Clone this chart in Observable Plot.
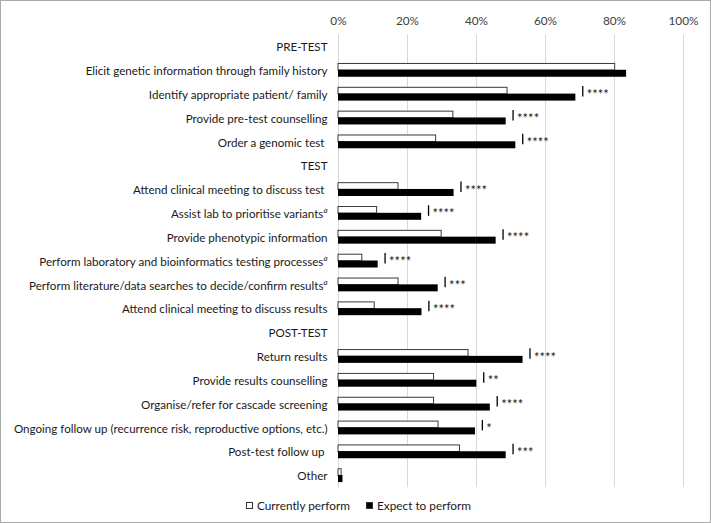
<!DOCTYPE html>
<html><head><meta charset="utf-8">
<script src="https://cdn.jsdelivr.net/npm/d3@7"></script>
<script src="https://cdn.jsdelivr.net/npm/@observablehq/plot@0.6"></script>
<style>
body{margin:0;background:#fff;}
#chart{width:711px;height:523px;box-sizing:border-box;border:1px solid #aaaaaa;font-family:Lato, sans-serif;position:relative;overflow:hidden;background:#fff;}
#chart svg{position:absolute;left:0;top:0;}
.legend{position:absolute;top:497px;left:0;width:709px;display:flex;justify-content:center;gap:16px;font-size:11.8px;color:#1a1a1a;padding-left:6px;box-sizing:border-box;}
.legend span.item{display:flex;align-items:center;gap:4px;}
.legend .sw{display:inline-block;width:7px;height:7px;box-sizing:border-box;}
</style></head><body><div id="chart"></div>
<script>
const categories = [
  "PRE-TEST",
  "Elicit genetic information through family history",
  "Identify appropriate patient/ family",
  "Provide pre-test counselling",
  "Order a genomic test\u00a0",
  "TEST",
  "Attend clinical meeting to discuss test\u00a0",
  "Assist lab to prioritise variants",
  "Provide phenotypic information",
  "Perform laboratory and bioinformatics testing processes",
  "Perform literature/data searches to decide/confirm results",
  "Attend clinical meeting to discuss results",
  "POST-TEST",
  "Return results",
  "Provide results counselling",
  "Organise/refer for cascade screening",
  "Ongoing follow up (recurrence risk, reproductive options, etc.)",
  "Post-test follow up\u00a0",
  "Other"
];
const currentlyPerform = [null, 80.2, 49.0, 33.3, 28.3, null, 17.4, 11.2, 29.9, 6.9, 17.4, 10.5, null, 37.7, 27.7, 27.7, 29.0, 35.2, 0.9];
const expectToPerform  = [null, 83.5, 68.8, 48.6, 51.4, null, 33.5, 24.1, 45.7, 11.5, 28.9, 24.2, null, 53.5, 40.1, 44.0, 39.7, 48.6, 1.3];
const significance     = ["", "", "****", "****", "****", "", "****", "****", "****", "****", "***", "****", "", "****", "**", "****", "*", "***", ""];
const superscriptA = [
  "Assist lab to prioritise variants",
  "Perform laboratory and bioinformatics testing processes",
  "Perform literature/data searches to decide/confirm results"
];
const xTicks = [0, 20, 40, 60, 80, 100];
const seriesNames = ["Currently perform", "Expect to perform"];

const rows = categories.map((c, i) => ({cat: c, cur: currentlyPerform[i], exp: expectToPerform[i], sig: significance[i]}));
const barRows = rows.filter(d => d.cur != null);
const sigRows = rows.filter(d => d.sig);

const band = 453 / 19;
const half = band / 2;

const plot = Plot.plot({
  width: 709,
  height: 489,
  marginLeft: 337,
  marginRight: 27,
  marginTop: 33,
  marginBottom: 3,
  style: {fontFamily: "Lato, sans-serif", fontSize: "11.8px", color: "#1a1a1a", background: "transparent"},
  x: {domain: [0, 100], axis: null},
  y: {domain: categories, padding: 0, round: false, axis: null},
  marks: [
    Plot.gridX(xTicks, {stroke: "#d9d9d9", strokeOpacity: 1}),
    Plot.axisX(xTicks, {anchor: "top", tickSize: 0, tickPadding: 10, tickFormat: d => d + "%", fill: "#404040", fontSize: 11.8}),
    Plot.barX(barRows, {x1: 0, x2: "cur", y: "cat", fill: "white", stroke: "#3a3a3a", strokeWidth: 1, insetTop: half - 6.3, insetBottom: half - 0.3}),
    Plot.barX(barRows, {x1: 0, x2: "exp", y: "cat", fill: "black", insetTop: half, insetBottom: half - 7}),
    Plot.tickX(sigRows, {x: d => d.exp + 2, y: "cat", stroke: "black", strokeWidth: 1.3, insetTop: half - 7.5, insetBottom: half - 3}),
    Plot.text(sigRows, {x: d => d.exp + 2, y: "cat", text: "sig", dx: 4, dy: 1, textAnchor: "start", fill: "#1a1a1a", fontSize: 13}),
    Plot.text(rows, {x: 0, y: "cat", text: "cat", dx: -11, dy: 1, textAnchor: "end", fill: "#1a1a1a", fontSize: 11.6, className: "ylab"})
  ]
});

plot.querySelectorAll(".ylab text").forEach(t => {
  if (superscriptA.includes(t.textContent)) {
    const ts = document.createElementNS("http://www.w3.org/2000/svg", "tspan");
    ts.textContent = "a";
    ts.setAttribute("font-style", "italic");
    ts.setAttribute("font-size", "8");
    ts.setAttribute("dy", "-5");
    t.appendChild(ts);
  }
});

const chart = document.getElementById("chart");
chart.appendChild(plot);

const legend = document.createElement("div");
legend.className = "legend";
seriesNames.forEach((name, i) => {
  const item = document.createElement("span");
  item.className = "item";
  const sw = document.createElement("span");
  sw.className = "sw";
  sw.style.background = i === 0 ? "white" : "black";
  sw.style.border = "1px solid #333";
  item.appendChild(sw);
  item.appendChild(document.createTextNode(name));
  legend.appendChild(item);
});
chart.appendChild(legend);
</script>
</body></html>
